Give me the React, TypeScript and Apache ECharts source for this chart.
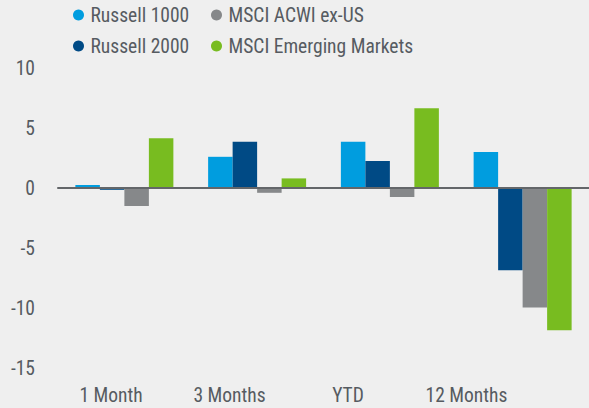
import React, { useEffect, useRef } from "react";
import * as echarts from "echarts";

const categories = ["1 Month", "3 Months", "YTD", "12 Months"];
const russell1000 = [0.25, 2.6, 3.85, 3.0];
const russell2000 = [-0.15, 3.85, 2.25, -6.85];
const acwiExUs = [-1.5, -0.4, -0.75, -9.95];
const emergingMarkets = [4.15, 0.8, 6.65, -11.85];
const yTicks = { min: -15, max: 10, interval: 5 };

const FONT = "'Liberation Sans Narrow', 'Roboto Condensed', Roboto, sans-serif";
const TEXT = "#565b61";

export default function App() {
  const ref = useRef<HTMLDivElement>(null);
  useEffect(() => {
    const chart = echarts.init(ref.current!, null, { renderer: "svg" });
    const legendCommon = {
      orient: "vertical",
      top: 0,
      icon: "circle",
      itemWidth: 14,
      itemHeight: 11,
      itemGap: 11,
      textStyle: { color: TEXT, fontSize: 19.5, fontFamily: FONT, lineHeight: 20 },
    };
    chart.setOption({
      animation: false,
      backgroundColor: "#efefef",
      textStyle: { fontFamily: FONT },
      legend: [
        { ...legendCommon, left: 68, data: ["Russell 1000", "Russell 2000"] },
        { ...legendCommon, left: 206, data: ["MSCI ACWI ex-US", "MSCI Emerging Markets"] },
      ],
      grid: [
        { left: 58, width: 534, top: 68, height: 300 },
        { left: 51.75, width: 474, top: 68, height: 300 },
      ],
      xAxis: [
        {
          type: "category",
          gridIndex: 0,
          data: categories,
          z: 5,
          axisLine: { show: true, onZero: true, lineStyle: { color: "#636669", width: 2 } },
          axisTick: { show: false },
          axisLabel: { show: false },
        },
        {
          type: "category",
          gridIndex: 1,
          data: categories,
          position: "bottom",
          axisLine: { show: false, onZero: false },
          axisTick: { show: false },
          axisLabel: { color: TEXT, fontSize: 19.5, fontFamily: FONT, margin: 17 },
        },
      ],
      yAxis: [
        {
          type: "value",
          gridIndex: 0,
          min: yTicks.min,
          max: yTicks.max,
          interval: yTicks.interval,
          splitLine: { show: false },
          axisLine: { show: false },
          axisTick: { show: false },
          axisLabel: { color: TEXT, fontSize: 19.5, fontFamily: FONT, margin: 23 },
        },
        {
          type: "value",
          gridIndex: 1,
          min: yTicks.min,
          max: yTicks.max,
          interval: yTicks.interval,
          show: false,
        },
      ],
      series: [
        { name: "Russell 1000", data: russell1000, color: "#009ddf" },
        { name: "Russell 2000", data: russell2000, color: "#004a85" },
        { name: "MSCI ACWI ex-US", data: acwiExUs, color: "#86888a" },
        { name: "MSCI Emerging Markets", data: emergingMarkets, color: "#78bc20" },
      ].map((s) => ({
        ...s,
        type: "bar",
        xAxisIndex: 0,
        yAxisIndex: 0,
        barWidth: 24.5,
        barGap: "0%",
      })),
    });
    return () => chart.dispose();
  }, []);
  return (
    <div
      ref={ref}
      style={{ position: "absolute", left: 0, top: 0, width: 589, height: 408 }}
    />
  );
}
